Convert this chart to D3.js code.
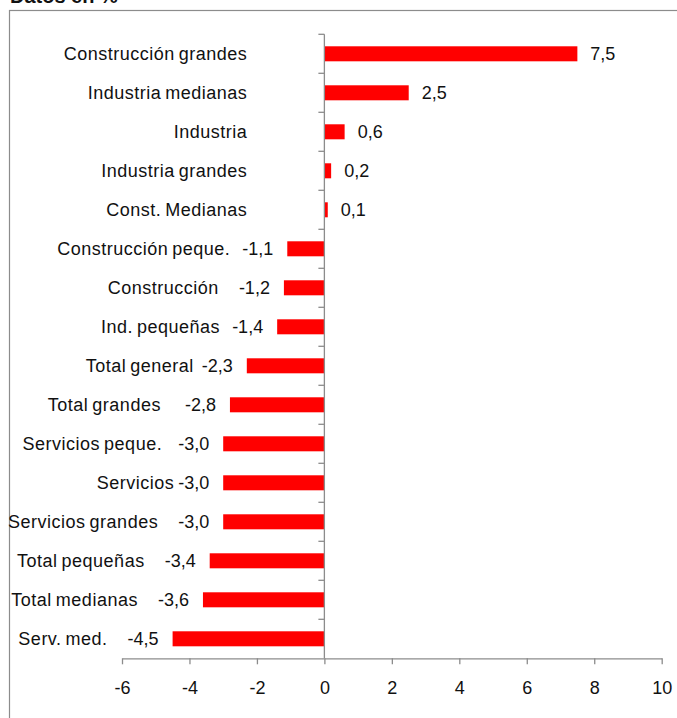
<!DOCTYPE html>
<html>
<head>
<meta charset="utf-8">
<script src="https://cdn.jsdelivr.net/npm/d3@7"></script>
<style>
  body { margin: 0; background: #fff; }
  text { font-family: "Liberation Sans", Arial, sans-serif; fill: #111; }
  .lbl { white-space: pre; }
  .cat { letter-spacing: 0.5px; word-spacing: -1.5px; }
</style>
</head>
<body>
<div id="chart"></div>
<script>
// categories top to bottom (trailing spaces as in the original labels)
const categories = [
    "Construcción grandes", "Industria medianas", "Industria", "Industria grandes",
    "Const. Medianas", "Construcción peque.  ", "Construcción    ", "Ind. pequeñas  ",
    "Total general ", "Total grandes     ", "Servicios peque.   ", "Servicios",
    "Servicios grandes    ", "Total pequeñas    ", "Total medianas    ", "Serv. med.    "
];
const values = [7.5, 2.5, 0.6, 0.2, 0.1, -1.1, -1.2, -1.4, -2.3, -2.8, -3.0, -3.0, -3.0, -3.4, -3.6, -4.5];
const xTicks = [-6, -4, -2, 0, 2, 4, 6, 8, 10];
const title = "Datos en %";

const width = 677, height = 718;
const locale = d3.formatLocale({decimal: ",", thousands: ".", grouping: [3], currency: ["", "€"], minus: "-"});
const fmt = locale.format(".1f");
const fmtTick = locale.format("d");

const svg = d3.select("#chart")
    .append("svg")
    .attr("width", width)
    .attr("height", height);

// chart frame
svg.append("rect")
    .attr("x", 9.5).attr("y", 10.5)
    .attr("width", 720).attr("height", 740)
    .attr("fill", "none")
    .attr("stroke", "#8c8c8c")
    .attr("stroke-width", 1.2);

// title, cut by the top edge as in the original
svg.append("text")
    .attr("x", 10).attr("y", 2.5)
    .style("font-size", "20px")
    .style("font-weight", "bold")
    .text(title);

const x = d3.scaleLinear()
    .domain([-6, 10])
    .range([122, 661.7]);

const y = d3.scaleBand()
    .domain(d3.range(categories.length))
    .range([34.3, 658.3])
    .paddingInner(0.615)
    .paddingOuter(0.3075);

const x0 = x(0);

svg.selectAll(".bar")
    .data(values)
    .enter()
    .append("rect")
    .attr("class", "bar")
    .attr("x", d => Math.min(x(d), x0))
    .attr("y", (d, i) => y(i))
    .attr("width", d => Math.abs(x(d) - x0))
    .attr("height", y.bandwidth())
    .attr("fill", "#ff0000");

// x axis
const xAxis = svg.append("g")
    .attr("transform", "translate(0,658.3)")
    .call(d3.axisBottom(x).tickValues(xTicks).tickFormat(fmtTick).tickSize(6).tickPadding(17).tickSizeOuter(0));
xAxis.selectAll("path, line").attr("stroke", "#8c8c8c").attr("stroke-width", 1.3);
xAxis.selectAll("text").style("font-size", "18px").attr("fill", "#111");

// vertical zero axis with ticks at band boundaries
const step = y.step();
const bounds = d3.range(categories.length + 1).map(i => 34.3 + i * step);
svg.append("line")
    .attr("x1", x0).attr("x2", x0)
    .attr("y1", 34.3).attr("y2", 658.3)
    .attr("stroke", "#8c8c8c").attr("stroke-width", 1.3);
svg.selectAll(".ytick")
    .data(bounds.slice(0, -1))
    .enter()
    .append("line")
    .attr("x1", x0 - 6).attr("x2", x0)
    .attr("y1", d => d).attr("y2", d => d)
    .attr("stroke", "#8c8c8c").attr("stroke-width", 1.3);

// value labels
const mid = i => y(i) + y.bandwidth() / 2;
const vals = svg.selectAll(".val")
    .data(values)
    .enter()
    .append("text")
    .attr("class", "lbl")
    .attr("x", d => d >= 0 ? x(d) + 13 : x(d) - 14)
    .attr("y", (d, i) => mid(i))
    .attr("dy", "0.36em")
    .attr("text-anchor", d => d >= 0 ? "start" : "end")
    .style("font-size", "18px")
    .text(d => fmt(d));

// category labels
const valWidths = vals.nodes().map(n => n.getComputedTextLength());
svg.selectAll(".cat")
    .data(categories)
    .enter()
    .append("text")
    .attr("class", "lbl cat")
    .attr("x", (d, i) => values[i] >= 0 ? x0 - 77 : x(values[i]) - 18 - valWidths[i])
    .attr("y", (d, i) => mid(i))
    .attr("dy", "0.36em")
    .attr("text-anchor", "end")
    .style("font-size", "18px")
    .text(d => d);
</script>
</body>
</html>
